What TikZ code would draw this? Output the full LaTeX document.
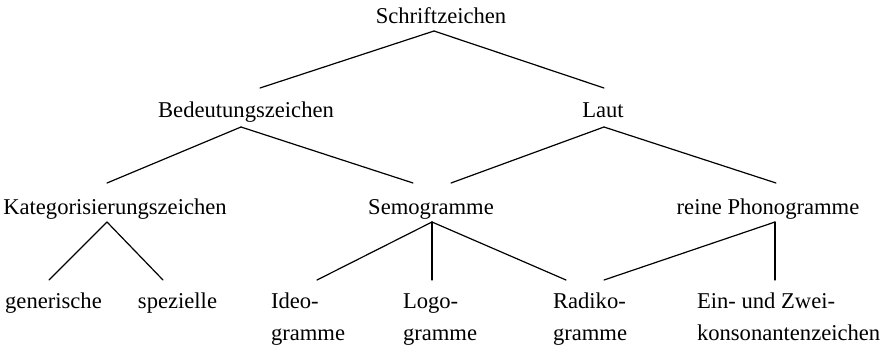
\documentclass[tikz,border=0pt]{standalone}
\usepackage{fontspec}
\setmainfont{Liberation Serif}
\begin{document}
\begin{tikzpicture}[x=1pt,y=-1pt,
  lbl/.style={inner sep=0pt,outer sep=0pt,font=\fontsize{22.6}{32}\selectfont},
  edge/.style={line width=1.2pt,line cap=round}]
\useasboundingbox (0,0) rectangle (882,351);
\node[lbl,anchor=base] (S) at (441,23) {Schriftzeichen};
\node[lbl,anchor=base] (B) at (246,117) {Bedeutungszeichen};
\node[lbl,anchor=base] (L) at (603,117) {Laut};
\node[lbl,anchor=base] (K) at (115,214) {Kategorisierungszeichen};
\node[lbl,anchor=base] (Sem) at (431,214) {Semogramme};
\node[lbl,anchor=base] (rP) at (768,214) {reine Phonogramme};
\node[lbl,anchor=base] (gen) at (53.5,308) {generische};
\node[lbl,anchor=base] (spez) at (177.5,308) {spezielle};
\node[lbl,anchor=base west] (ideo) at (271,308) {\begin{tabular}[t]{@{}l@{}}Ideo-\\gramme\end{tabular}};
\node[lbl,anchor=base west] (logo) at (403,308) {\begin{tabular}[t]{@{}l@{}}Logo-\\gramme\end{tabular}};
\node[lbl,anchor=base west] (radi) at (553,308) {\begin{tabular}[t]{@{}l@{}}Radiko-\\gramme\end{tabular}};
\node[lbl,anchor=base west] (ein) at (697,308) {\begin{tabular}[t]{@{}l@{}}Ein- und Zwei-\\konsonantenzeichen\end{tabular}};

\draw[edge] ([shift={(-7,8)}]S.base) -- ([shift={(14,-29)}]B.base);
\draw[edge] ([shift={(-7,8)}]S.base) -- ([shift={(1,-29)}]L.base);
\draw[edge] ([shift={(-5,10)}]B.base) -- ([shift={(-8,-31)}]K.base);
\draw[edge] ([shift={(-5,10)}]B.base) -- ([shift={(-18,-31)}]Sem.base);
\draw[edge] ([shift={(1,10)}]L.base) -- ([shift={(20,-31)}]Sem.base);
\draw[edge] ([shift={(1,10)}]L.base) -- ([shift={(8,-31)}]rP.base);
\draw[edge] ([shift={(-8,8)}]K.base) -- ([shift={(-4.5,-28)}]gen.base);
\draw[edge] ([shift={(-8,8)}]K.base) -- ([shift={(-14.5,-28)}]spez.base);
\draw[edge] ([shift={(1,8)}]Sem.base) -- ([shift={(46,-28)}]ideo.base west);
\draw[edge] ([shift={(1,8)}]Sem.base) -- ([shift={(29,-28)}]logo.base west);
\draw[edge] ([shift={(1,8)}]Sem.base) -- ([shift={(13,-28)}]radi.base west);
\draw[edge] ([shift={(7,8)}]rP.base) -- ([shift={(51,-28)}]radi.base west);
\draw[edge] ([shift={(7,8)}]rP.base) -- ([shift={(78,-28)}]ein.base west);
\end{tikzpicture}
\end{document}
